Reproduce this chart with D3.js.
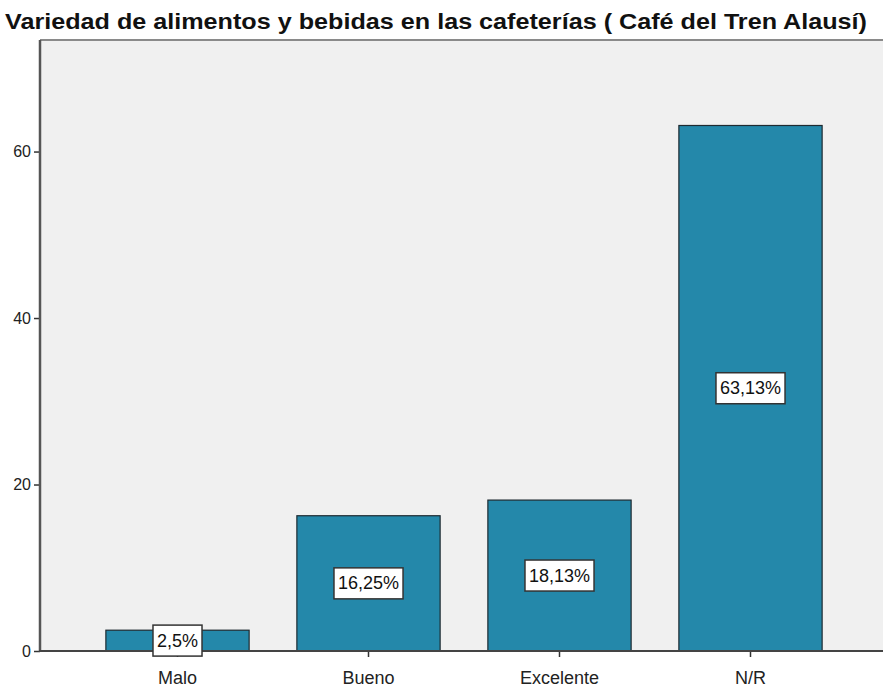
<!DOCTYPE html>
<html><head><meta charset="utf-8">
<script src="https://cdn.jsdelivr.net/npm/d3@7/dist/d3.min.js"></script>
<style>body{margin:0;background:#fff}svg{display:block}text{font-family:"Liberation Sans",Arial,sans-serif}</style>
</head><body><svg id="c" width="883" height="691"></svg>
<script>
const categories = ["Malo","Bueno","Excelente","N/R"];
const values = [2.5, 16.25, 18.13, 63.13];
const labels = ["2,5%","16,25%","18,13%","63,13%"];
const yTicks = [0,20,40,60];
const title = "Variedad de alimentos y bebidas en las cafeterías ( Café del Tren Alausí)";

const svg = d3.select("#c");
const plot = {left:40, top:40, right:883, bottom:651};
const x = d3.scaleBand().domain(categories).range([82,846]).paddingInner(0.25).paddingOuter(0.125);
const y = d3.scaleLinear().domain([0,73.4]).range([plot.bottom, plot.top]);

svg.append("rect").attr("x",plot.left).attr("y",plot.top).attr("width",plot.right-plot.left).attr("height",plot.bottom-plot.top).attr("fill","#f0f0f0");
svg.append("line").attr("x1",plot.left).attr("x2",plot.right).attr("y1",plot.top).attr("y2",plot.top).attr("stroke","#8a8a8a").attr("stroke-width",2);

svg.append("text").attr("x",5).attr("y",29).attr("font-size",22).attr("font-weight","bold").attr("fill","#111")
  .attr("textLength",862).attr("lengthAdjust","spacingAndGlyphs").text(title);

svg.selectAll("rect.bar").data(values).join("rect").attr("class","bar")
  .attr("x",(d,i)=>x(categories[i])).attr("width",x.bandwidth())
  .attr("y",d=>y(d)).attr("height",d=>y(0)-y(d))
  .attr("fill","#2488aa").attr("stroke","#1e2a30").attr("stroke-width",1.2);

// axes
const yAxis = svg.append("g").attr("transform",`translate(${plot.left},0)`)
  .call(d3.axisLeft(y).tickValues(yTicks).tickSize(6).tickPadding(3).tickFormat(d3.format("d")));
yAxis.select(".domain").remove();
yAxis.selectAll(".tick line").attr("stroke","#333").attr("stroke-width",1.5);
yAxis.selectAll(".tick text").attr("font-size",16).attr("fill","#222").attr("font-family","Liberation Sans, Arial, sans-serif");
svg.append("line").attr("x1",plot.left).attr("x2",plot.left).attr("y1",plot.top).attr("y2",plot.bottom+1).attr("stroke","#555").attr("stroke-width",2.5);

const xAxis = svg.append("g").attr("transform",`translate(0,${plot.bottom})`)
  .call(d3.axisBottom(x).tickSize(6).tickPadding(14));
xAxis.select(".domain").remove();
xAxis.selectAll(".tick line").attr("stroke","#333").attr("stroke-width",1.5);
xAxis.selectAll(".tick text").attr("font-size",18).attr("fill","#222").attr("font-family","Liberation Sans, Arial, sans-serif");
svg.append("line").attr("x1",plot.left-1).attr("x2",plot.right).attr("y1",plot.bottom).attr("y2",plot.bottom).attr("stroke","#444").attr("stroke-width",2);

// labels
const lg = svg.selectAll("g.lab").data(values).join("g").attr("class","lab");
lg.each(function(d,i){
  const g = d3.select(this);
  const cx = x(categories[i]) + x.bandwidth()/2;
  const cy = (y(d)+y(0))/2;
  const t = g.append("text").attr("x",cx).attr("y",cy).attr("text-anchor","middle").attr("dominant-baseline","central")
    .attr("font-size",18).attr("fill","#111").text(labels[i]);
  const w = t.node().getComputedTextLength();
  g.insert("rect","text").attr("x",cx-w/2-4).attr("y",cy-15.5).attr("width",w+8).attr("height",31)
    .attr("fill","#fff").attr("stroke","#333").attr("stroke-width",1.5);
});
</script></body></html>
